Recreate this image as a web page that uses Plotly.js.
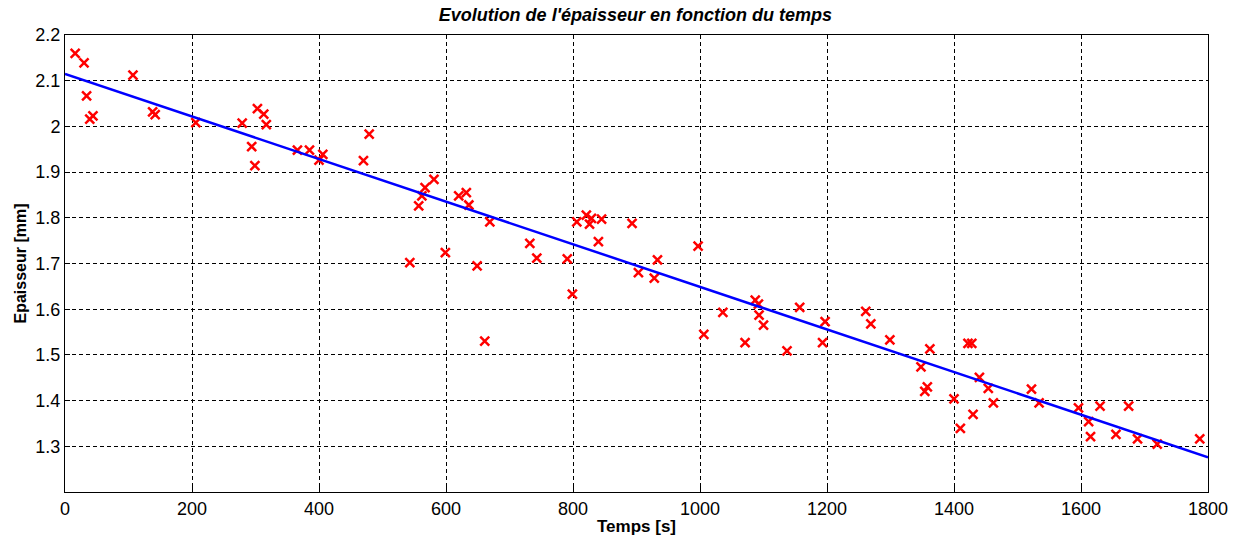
<!DOCTYPE html>
<html>
<head>
<meta charset="utf-8">
<script src="https://cdn.plot.ly/plotly-3.0.1.min.js"></script>
<style>html,body{margin:0;padding:0;background:#fff;}#chart{width:1236px;height:541px;}</style>
</head>
<body>
<div id="chart"></div>
<script>
const timeS = [16, 30, 34, 39, 44, 107, 138, 142, 206, 279, 294, 299, 303, 313, 317, 366, 385, 400, 406,
  470, 479, 543, 557, 562, 567, 581, 599, 620, 632, 636, 649, 661, 669, 732, 743, 791, 799, 806, 821, 826, 829, 840, 845, 893, 903, 928, 933, 997,
  1006, 1036, 1071, 1087, 1092, 1093, 1100, 1137, 1157, 1193, 1197, 1261, 1269, 1299,
  1348, 1354, 1358, 1362, 1400, 1410, 1422, 1428, 1430, 1440, 1454, 1462, 1522, 1534,
  1596, 1612, 1615, 1630, 1655, 1675, 1689, 1720, 1787];
const thickness = [2.160, 2.139, 2.067, 2.016, 2.023, 2.112, 2.032, 2.026, 2.008, 2.007, 1.956, 1.914, 2.039, 2.027, 2.004, 1.948, 1.948, 1.926, 1.939,
  1.925, 1.983, 1.702, 1.826, 1.848, 1.866, 1.884, 1.724, 1.848, 1.855, 1.828, 1.695, 1.530, 1.791, 1.744, 1.712, 1.710, 1.633, 1.791, 1.806, 1.786, 1.799, 1.748, 1.797, 1.788, 1.680, 1.668, 1.708, 1.738,
  1.545, 1.593, 1.527, 1.620, 1.611, 1.587, 1.565, 1.509, 1.604, 1.527, 1.573, 1.595, 1.568, 1.533,
  1.474, 1.420, 1.430, 1.513, 1.404, 1.339, 1.525, 1.525, 1.370, 1.451, 1.427, 1.395, 1.425, 1.395,
  1.384, 1.354, 1.321, 1.388, 1.326, 1.388, 1.316, 1.305, 1.316];
const fitX = [0, 1800];
const fitY = [2.115, 1.276];
const yTickVals = [1.3, 1.4, 1.5, 1.6, 1.7, 1.8, 1.9, 2.0, 2.1, 2.2];
const yTickText = ['1.3', '1.4', '1.5', '1.6', '1.7', '1.8', '1.9', '2', '2.1', '2.2'];
const xTickVals = [0, 200, 400, 600, 800, 1000, 1200, 1400, 1600, 1800];

const font = 'Arial, "Liberation Sans", sans-serif';
const traces = [
  {x: timeS, y: thickness, mode: 'markers', type: 'scatter',
   marker: {symbol: 'x-thin-open', size: 9, color: '#ff0000', line: {color: '#ff0000', width: 2.5}},
   hoverinfo: 'x+y'},
  {x: fitX, y: fitY, mode: 'lines', type: 'scatter',
   line: {color: '#0000ff', width: 2.5}}
];
const axisCommon = {
  showline: true, linecolor: '#000', linewidth: 1, mirror: true,
  ticks: 'inside', ticklen: 5, tickcolor: '#000',
  showgrid: true, gridcolor: '#000', gridwidth: 1, griddash: '4px,3px',
  zeroline: false, tickfont: {family: font, size: 18, color: '#000'}
};
const layout = {
  width: 1236, height: 541,
  margin: {l: 65, r: 28, t: 35, b: 49},
  paper_bgcolor: '#fff', plot_bgcolor: '#fff',
  showlegend: false,
  title: {text: "<b><i>Evolution de l'épaisseur en fonction du temps</i></b>",
          font: {family: font, size: 18, color: '#000'}, x: 0.514, xanchor: 'center', y: 0.972, yanchor: 'middle'},
  xaxis: Object.assign({}, axisCommon, {
    range: [0, 1800], tickvals: xTickVals,
    title: {text: '<b>Temps [s]</b>', font: {family: font, size: 17, color: '#000'}, standoff: 2}
  }),
  yaxis: Object.assign({}, axisCommon, {
    range: [1.2, 2.2], tickvals: yTickVals, ticktext: yTickText,
    title: {text: '<b>Epaisseur [mm]</b>', font: {family: font, size: 16, color: '#000'}, standoff: 4}
  })
};
Plotly.newPlot('chart', traces, layout, {staticPlot: true, displayModeBar: false});
</script>
</body>
</html>
